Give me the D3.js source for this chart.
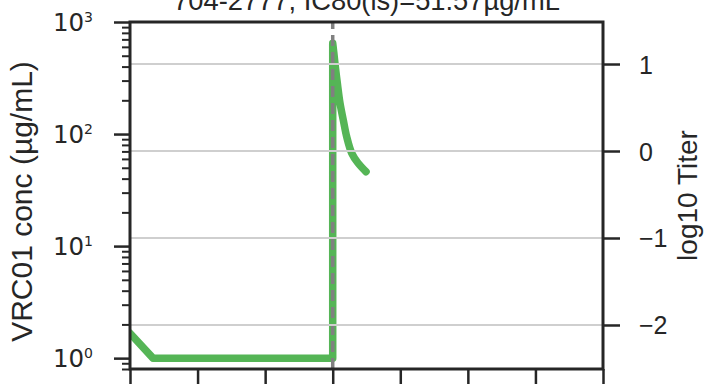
<!DOCTYPE html>
<html>
<head>
<meta charset="utf-8">
<script src="https://cdn.jsdelivr.net/npm/d3@7"></script>
<style>
  html, body { margin: 0; padding: 0; background: #fff; }
  svg { display: block; }
</style>
</head>
<body>
<svg id="chart" width="709" height="384"></svg>
<script>
// Concentration time course (weeks) with the infusion marker
const weeks = [0, 3.4, 30, 30, 30.15, 30.34, 30.7, 31.08, 31.57, 32.07, 32.81, 33.74, 34.93];
const conc  = [1.67, 1, 1, 646, 540, 422, 280, 189, 133, 94.6, 67.6, 55.1, 46.1];
const infusionWeek = 30;

const titleText = "704-2777, IC80(is)=51.57µg/mL";
const yLeftLabel = "VRC01 conc (µg/mL)";
const yRightLabel = "log10 Titer";

const xTicks = [0, 10, 20, 30, 40, 50, 60, 70];
const concMajor = [1, 10, 100, 1000];
const concMinor = [0.8, 0.9, 2, 3, 4, 5, 6, 7, 8, 9, 20, 30, 40, 50, 60, 70, 80, 90, 200, 300, 400, 500, 600, 700, 800, 900];
const titerTicks = [-2, -1, 0, 1];

const m = { left: 130, right: 603, top: 22, bottom: 369 };
const ink = "#262626";
const green = "#55b556";
const sans = "Liberation Sans, Arial, sans-serif";

const svg = d3.select("#chart");

const x = d3.scaleLinear().domain([0, 70]).range([m.left, m.right]);
const yL = d3.scaleLog().domain([0.8, 1000]).range([m.bottom, m.top]);
const yR = d3.scaleLinear().domain([-2.506, 1.483]).range([m.bottom, m.top]);

svg.append("defs").append("clipPath").attr("id", "plot")
  .append("rect").attr("x", m.left).attr("y", m.top)
  .attr("width", m.right - m.left).attr("height", m.bottom - m.top);

const plot = svg.append("g").attr("clip-path", "url(#plot)");

// concentration line: straight before the infusion, smooth decay after it
const pts = weeks.map((w, i) => [w, conc[i]]);
const iInf = weeks.indexOf(infusionWeek);
const before = pts.slice(0, iInf + 1);
const after = pts.slice(iInf + 1);
const lineLin = d3.line().x(d => x(d[0])).y(d => yL(d[1]));
const lineSmooth = d3.line().x(d => x(d[0])).y(d => yL(d[1])).curve(d3.curveCatmullRom.alpha(0.5));
const dPath = lineLin(before) + "L" + lineSmooth(after).slice(1);

plot.append("path")
  .attr("fill", "none")
  .attr("stroke", green)
  .attr("stroke-width", 7.5)
  .attr("stroke-linejoin", "round")
  .attr("stroke-linecap", "round")
  .attr("d", dPath);

// infusion marker
plot.append("line")
  .attr("x1", x(infusionWeek)).attr("x2", x(infusionWeek))
  .attr("y1", m.bottom).attr("y2", m.top)
  .attr("stroke", "#808080")
  .attr("stroke-width", 3.5)
  .attr("stroke-dasharray", "11,6");

// titer grid (right axis)
plot.selectAll("line.grid")
  .data(titerTicks)
  .join("line")
  .attr("class", "grid")
  .attr("x1", m.left).attr("x2", m.right)
  .attr("y1", d => yR(d)).attr("y2", d => yR(d))
  .attr("stroke", "#cfcfcf")
  .attr("stroke-width", 2);

// spines
svg.append("rect")
  .attr("x", m.left).attr("y", m.top)
  .attr("width", m.right - m.left).attr("height", m.bottom - m.top)
  .attr("fill", "none").attr("stroke", ink).attr("stroke-width", 3);

function styleAxis(g, width) {
  g.select(".domain").remove();
  g.selectAll(".tick line").attr("stroke", ink).attr("stroke-width", width);
}

// bottom axis (labels fall outside the frame)
svg.append("g")
  .attr("transform", `translate(0,${m.bottom})`)
  .call(d3.axisBottom(x).tickValues(xTicks).tickSize(16).tickFormat(""))
  .call(g => styleAxis(g, 2.5));

// left minor ticks
svg.append("g")
  .attr("transform", `translate(${m.left},0)`)
  .call(d3.axisLeft(yL).tickValues(concMinor).tickSize(8).tickFormat(""))
  .call(g => styleAxis(g, 2));

// left major ticks with 10^k labels
const leftMajor = svg.append("g")
  .attr("transform", `translate(${m.left},0)`)
  .call(d3.axisLeft(yL).tickValues(concMajor).tickSize(16).tickPadding(21).tickFormat(""))
  .call(g => styleAxis(g, 2.5));
leftMajor.selectAll(".tick text").each(function(d) {
  const t = d3.select(this)
    .attr("fill", ink)
    .attr("font-family", "DejaVu Sans")
    .attr("font-size", 24.5)
    .attr("dy", "0.36em");
  t.append("tspan").text("10");
  t.append("tspan").attr("font-size", 14).attr("dy", -9).text(Math.round(Math.log10(d)));
});

// right titer axis
svg.append("g")
  .attr("transform", `translate(${m.right},0)`)
  .call(d3.axisRight(yR).tickValues(titerTicks).tickSize(17).tickPadding(19)
    .tickFormat(d => d < 0 ? "\u2212" + Math.abs(d) : String(d)))
  .call(g => styleAxis(g, 2.5))
  .call(g => g.selectAll(".tick text")
    .attr("fill", ink)
    .attr("font-family", sans)
    .attr("font-size", 25)
    .attr("dy", "0.36em"));

// axis labels
svg.append("text")
  .attr("transform", `translate(32,${(m.top + m.bottom) / 2 + 6}) rotate(-90)`)
  .attr("text-anchor", "middle")
  .attr("font-family", sans)
  .attr("font-size", 30)
  .attr("fill", ink)
  .text(yLeftLabel);

svg.append("text")
  .attr("transform", `translate(697,${(m.top + m.bottom) / 2}) rotate(-90)`)
  .attr("text-anchor", "middle")
  .attr("font-family", sans)
  .attr("font-size", 28)
  .attr("fill", ink)
  .text(yRightLabel);

// title
svg.append("text")
  .attr("x", (m.left + m.right) / 2)
  .attr("y", 10)
  .attr("text-anchor", "middle")
  .attr("font-family", sans)
  .attr("font-size", 27.3)
  .attr("fill", ink)
  .text(titleText);
</script>
</body>
</html>
